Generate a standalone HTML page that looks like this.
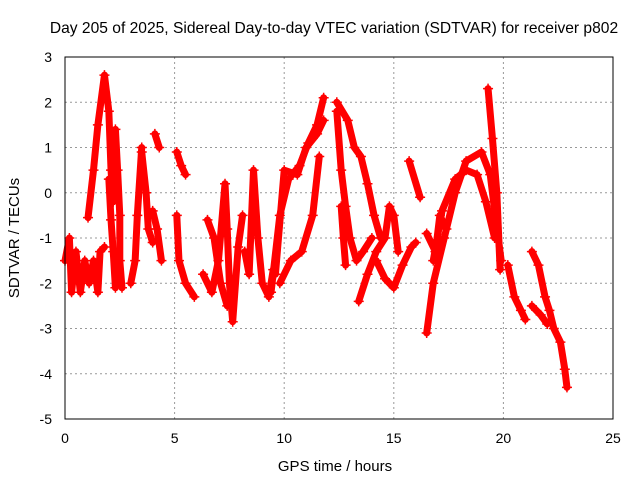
<!DOCTYPE html>
<html><head><meta charset="utf-8"><style>
body{margin:0;background:#fff}
svg text{font-family:"Liberation Sans",sans-serif;fill:#000}
</style></head><body>
<svg id="chart" width="640" height="480" xmlns="http://www.w3.org/2000/svg">
<rect width="640" height="480" fill="#fff"/>
<text x="334" y="33" font-size="15.6" text-anchor="middle">Day 205 of 2025, Sidereal Day-to-day VTEC variation (SDTVAR) for receiver p802</text>
<g id="grid"></g>
<g id="ticks"></g>
<g id="series"></g>
<rect x="65" y="57" width="548" height="362" fill="none" stroke="#000" stroke-width="1"/>
<text x="335" y="471" font-size="15" text-anchor="middle">GPS time / hours</text>
<text transform="translate(19,238) rotate(-90)" font-size="15" text-anchor="middle">SDTVAR / TECUs</text>
</svg>
<script>
const xTicks=[0,5,10,15,20,25];
const yTicks=[3,2,1,0,-1,-2,-3,-4,-5];
const trackA=[[0,-1.5],[0.2,-1.0],[0.3,-2.2],[0.5,-1.3],[0.7,-2.2],[0.9,-1.5],[1.1,-2.0],[1.3,-1.5],[1.5,-2.2],[1.6,-1.3],[1.8,-1.2]];
const trackB=[[1.05,-0.55],[1.3,0.5],[1.5,1.5],[1.8,2.6],[2.0,1.8],[2.1,0.5],[2.2,-0.2]];
const trackC=[[2.3,1.4],[2.4,0.5],[2.5,-0.5],[2.5,-1.5],[2.6,-2.1]];
const trackC2=[[2.0,0.3],[2.1,-0.6],[2.2,-1.3],[2.3,-2.1]];
const trackD=[[3.5,1.0],[3.3,-0.5],[3.2,-1.5],[3.0,-2.0]];
const trackD2=[[3.5,0.9],[3.7,0],[3.8,-0.8],[4.0,-1.1]];
const trackE=[[4.1,1.3],[4.3,1.0]];
const trackE2=[[4.0,-0.4],[4.2,-0.8],[4.4,-1.5]];
const trackF=[[5.1,0.9],[5.3,0.6],[5.5,0.4]];
const trackG=[[5.1,-0.5],[5.2,-1.5],[5.5,-2.0],[5.9,-2.3]];
const trackH=[[6.3,-1.8],[6.7,-2.2],[7.0,-1.5],[7.3,0.2],[7.4,-0.8],[7.5,-2.0],[7.65,-2.85],[7.9,-1.2],[8.1,-0.5]];
const trackH2=[[6.5,-0.6],[6.8,-1.0],[7.1,-2.0],[7.4,-2.5]];
const trackI=[[8.2,-1.3],[8.4,-1.8],[8.6,0.5],[8.8,-1.0],[9.0,-2.0],[9.3,-2.3],[9.5,-1.7]];
const trackJ=[[9.4,-2.2],[9.8,-0.5],[10.2,0.3],[10.7,0.6],[11.1,1.1],[11.5,1.5],[11.8,2.1]];
const trackJ2=[[9.6,-1.8],[10.0,0.5],[10.6,0.4],[11.0,1.0],[11.5,1.3],[11.8,1.6]];
const trackJ3=[[9.8,-2.0],[10.3,-1.5],[10.8,-1.3],[11.3,-0.5],[11.6,0.8]];
const trackK=[[12.4,1.8],[12.6,0.5],[12.8,-0.3],[13.0,-1.0],[13.3,-1.5],[13.6,-1.3],[14.0,-1.0]];
const trackK2=[[12.4,2.0],[12.9,1.6],[13.2,1.0],[13.5,0.8],[13.8,0.2],[14.1,-0.5],[14.4,-1.0]];
const trackK3=[[12.6,-0.3],[12.7,-1.0],[12.8,-1.6]];
const trackL=[[13.4,-2.4],[13.8,-1.8],[14.2,-1.3],[14.6,-1.0],[14.8,-0.3],[15.0,-0.5],[15.2,-1.3]];
const trackL2=[[14.2,-1.5],[14.6,-1.9],[15.0,-2.1],[15.4,-1.6],[15.8,-1.2],[16.0,-1.1]];
const trackM=[[15.7,0.7],[16.2,-0.1]];
const trackN=[[16.5,-3.1],[16.8,-2.0],[17.3,-1.0],[17.8,0.0],[18.3,0.7],[19.0,0.9],[19.4,0.4],[19.6,-0.4],[19.9,-1.5]];
const trackN2=[[16.8,-1.5],[17.2,-0.4],[17.8,0.3],[18.3,0.5],[18.8,0.4],[19.2,-0.2],[19.6,-1.0]];
const trackN3=[[16.5,-0.9],[16.9,-1.3],[17.1,-0.5],[17.4,-0.8]];
const trackP1=[[19.3,2.3],[19.5,1.2],[19.7,0.0],[19.85,-1.7]];
const trackO=[[20.2,-1.6],[20.5,-2.3],[20.8,-2.6],[21.0,-2.8]];
const trackP=[[21.3,-1.3],[21.6,-1.6],[21.9,-2.3],[22.1,-2.6],[22.3,-3.0],[22.6,-3.3],[22.8,-3.9],[22.9,-4.3]];
const trackP2=[[21.3,-2.5],[21.7,-2.7],[22.0,-2.9]];
const tracks=[trackA,trackB,trackC,trackC2,trackD,trackD2,trackE,trackE2,trackF,trackG,trackH,trackH2,trackI,trackJ,trackJ2,trackJ3,trackK,trackK2,trackK3,trackL,trackL2,trackM,trackN,trackN2,trackN3,trackP1,trackO,trackP,trackP2];
const X=t=>65+t*548/25, Y=v=>57+(3-v)*362/8;
const NS="http://www.w3.org/2000/svg";
const grid=document.getElementById('grid'),ticks=document.getElementById('ticks'),ser=document.getElementById('series');
function mk(tag,attrs,parent){const e=document.createElementNS(NS,tag);for(const k in attrs)e.setAttribute(k,attrs[k]);parent.appendChild(e);return e;}
xTicks.forEach(t=>{
  const g=mk('line',{x1:X(t),x2:X(t),y1:57,y2:419,stroke:'#999','stroke-dasharray':'2,3'},grid);
  
  
  const l=mk('text',{x:X(t),y:443,'font-size':14,'text-anchor':'middle'},ticks);l.textContent=t;
  
  
});
yTicks.forEach(v=>{
  const g=mk('line',{x1:65,x2:613,y1:Y(v),y2:Y(v),stroke:'#999','stroke-dasharray':'2,3'},grid);
  
  
  const l=mk('text',{x:52,y:Y(v)+5,'font-size':14,'text-anchor':'end'},ticks);l.textContent=v;
  
  
});
tracks.forEach(tr=>{
  const p=mk('polyline',{points:tr.map(d=>X(d[0])+','+Y(d[1])).join(' '),fill:'none',stroke:'#f00','stroke-width':7,'stroke-linejoin':'round','stroke-linecap':'round'},ser);
  
  
  tr.forEach(d=>{
    const m=mk('path',{d:`M${X(d[0])-5},${Y(d[1])}h10M${X(d[0])},${Y(d[1])-5}v10`,stroke:'#f00','stroke-width':1.5},ser);
    
    
  });
});
</script>
</body></html>
